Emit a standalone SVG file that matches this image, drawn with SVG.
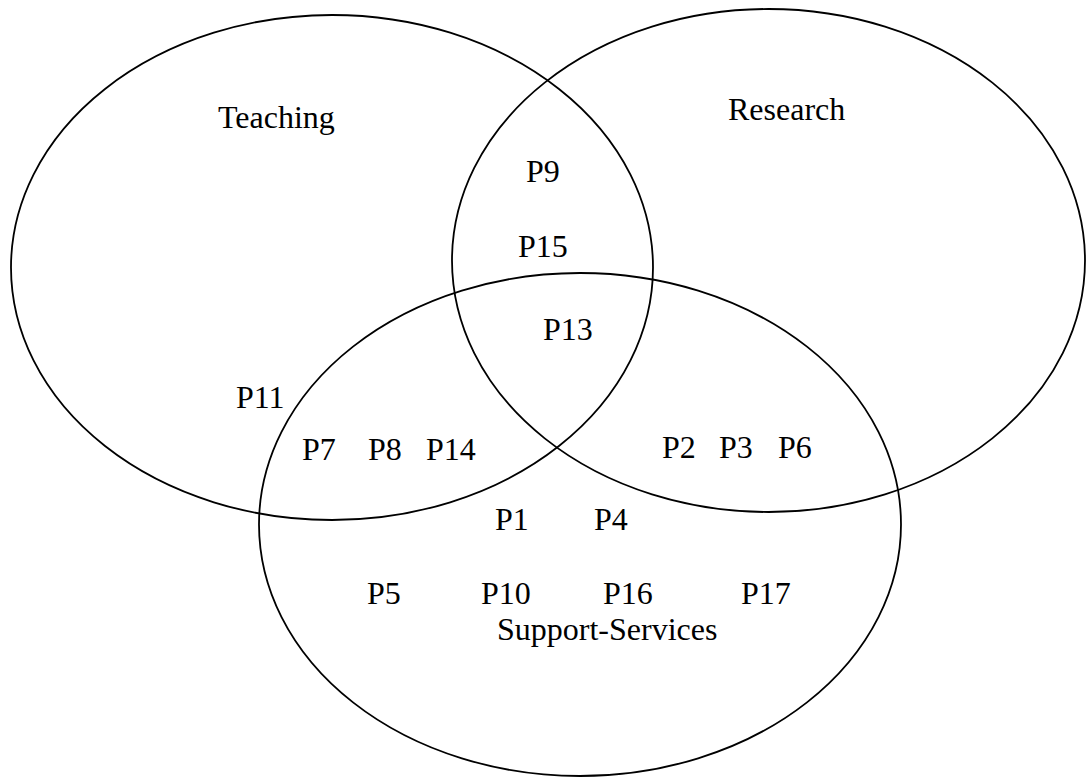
<svg xmlns="http://www.w3.org/2000/svg" width="1086" height="777" viewBox="0 0 1086 777">
<style>
.set{fill:none;stroke:#000;stroke-width:1.8}
text{font-family:"Liberation Serif","Times New Roman",serif;font-size:32px;fill:#000}
</style>
<rect width="1086" height="777" fill="#fff"/>
<g id="teaching">
<ellipse class="set" cx="332" cy="267.5" rx="321" ry="252.5"/>
<text x="218" y="128">Teaching</text>
</g>
<g id="research">
<ellipse class="set" cx="768.5" cy="260.5" rx="316.5" ry="251.5"/>
<text x="728" y="120">Research</text>
</g>
<g id="support-services">
<ellipse class="set" cx="580" cy="524.5" rx="321" ry="251.5"/>
<text x="497" y="640">Support-Services</text>
</g>
<g id="items">
<text x="526" y="182">P9</text>
<text x="518" y="257">P15</text>
<text x="543" y="340">P13</text>
<text x="236" y="408">P11</text>
<text x="302" y="460">P7</text>
<text x="368" y="460">P8</text>
<text x="426" y="460">P14</text>
<text x="662" y="458">P2</text>
<text x="719" y="458">P3</text>
<text x="778" y="458">P6</text>
<text x="495" y="530">P1</text>
<text x="594" y="530">P4</text>
<text x="367" y="604">P5</text>
<text x="481" y="604">P10</text>
<text x="603" y="604">P16</text>
<text x="741" y="604">P17</text>
</g>
</svg>
